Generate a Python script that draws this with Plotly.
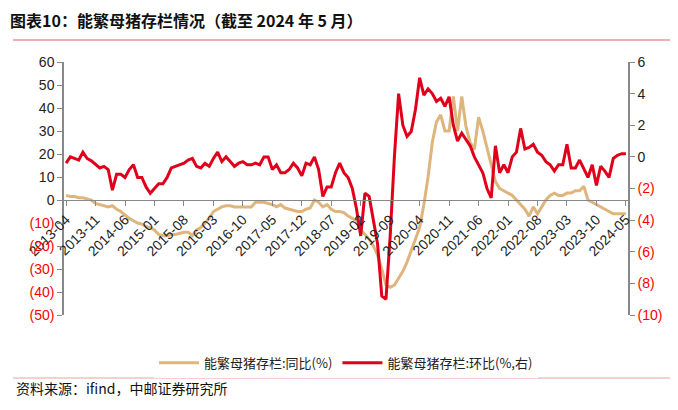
import pandas as pd
import plotly.graph_objects as go

months = pd.date_range("2013-04-01", "2024-05-01", freq="MS").strftime("%Y-%m").tolist()

# 能繁母猪存栏:同比(%)  (left axis)
yoy = [2, 1.5, 1.5, 1, 1, 0.5, 0, -1.5, -2, -2.5, -3, -2.5, -4, -5, -6.5, -8, -9, -10, -10.5, -11.5,
       -12, -13, -15, -15.5, -15.5, -15, -15, -14.5, -14, -14, -15.5, -13, -12, -10, -8, -5, -4, -3, -2.5, -2.5,
       -3, -3, -3, -3, -3, -1, -1, -1, -1.5, -2, -3, -2, -3.5, -4, -4.5, -5, -5, -4, -3.5, 0,
       -1, -3, -2, -4, -5, -5, -5.5, -7, -8, -9, -13, -15, -17, -20, -24, -30, -37, -38, -37, -34,
       -31, -27, -22, -17, -12, -2, 10, 25, 34, 37, 30, 30, 45, 30, 45, 32, 25, 22, 36, 30,
       23, 15, 8, 5, 4, 3, 2, 0, -2, -4, -7, -3, -6, -3, 0, 2, 3, 2, 2, 3,
       3, 4, 4, 6, 0, -1, -2, -3, -4, -5, -6, -6, -6, -6]

# 能繁母猪存栏:环比(%,右)  (right axis)
mom = [-0.4, 0.0, -0.1, -0.2, 0.3, -0.1, -0.25, -0.5, -0.7, -0.6, -0.8, -2.1, -1.1, -1.1, -1.3, -0.8, -0.5, -1.3, -1.3, -1.9,
       -2.3, -2.0, -1.7, -1.7, -1.3, -0.7, -0.6, -0.5, -0.4, -0.2, -0.1, -0.6, -0.7, -0.4, -0.6, -0.1, 0.3, -0.3, 0.0, -0.3,
       -0.6, -0.4, -0.3, -0.5, -0.5, -0.4, -0.5, 0.0, 0.0, -0.8, -0.5, -1.0, -1.0, -0.8, -0.4, -0.7, -1.2, -0.4, -0.5, 0.0,
       -0.8, -2.5, -1.9, -1.9, -1.0, -0.4, -1.0, -1.3, -2.0, -3.3, -5.0, -2.3, -2.5, -4.0, -5.5, -8.8, -9.0, -5.0, 0.0, 4.0,
       2.0, 1.3, 1.6, 3.0, 5.0, 3.9, 4.3, 4.0, 3.5, 3.7, 3.2, 3.8, 2.0, 1.0, 1.5, 1.1, 0.7, 0.0, -0.5, -1.0,
       -2.0, -2.6, 0.7, -1.0, -0.5, -1.0, 0.0, 0.3, 1.8, 0.5, 0.6, 0.8, 0.3, 0.1, -0.3, -0.5, -0.9, -0.5, -0.5, 0.8,
       -0.7, -0.7, -0.2, -0.8, -1.3, -0.5, -1.8, -0.6, -0.9, -1.3, -0.1, 0.1, 0.2, 0.2]

left_vals = [60, 50, 40, 30, 20, 10, 0, -10, -20, -30, -40, -50]
right_vals = [6, 4, 2, 0, -2, -4, -6, -8, -10]


def fmt(v):
    if v < 0:
        return "<span style='color:#ff0000'>(%d)</span>" % abs(v)
    return str(v)


tan = "#dfb57e"
red = "#e0001b"

fig = go.Figure()
fig.add_trace(go.Scatter(x=months, y=yoy, mode="lines", name="能繁母猪存栏:同比(%)",
                         line=dict(color=tan, width=3)))
fig.add_trace(go.Scatter(x=months, y=mom, mode="lines", name="能繁母猪存栏:环比(%,右)",
                         line=dict(color=red, width=3), yaxis="y2"))

font = "Liberation Sans, Arial, sans-serif"
fig.update_layout(
    width=678, height=410,
    margin=dict(l=56, r=58, t=54, b=103),
    paper_bgcolor="white", plot_bgcolor="white",
    font=dict(family=font, size=14, color="#222"),
    showlegend=True,
    legend=dict(orientation="h", x=0.5, xanchor="center", y=-0.13, yanchor="top",
                font=dict(family="Noto Sans CJK SC", size=13), itemwidth=40),
    xaxis=dict(type="category", tickvals=months[::7], ticktext=months[::7], tickangle=-45,
               showgrid=False, showline=True, linecolor="#888", linewidth=1,
               ticks="outside", ticklen=5, tickcolor="#888",
               anchor="free", position=50 / 110, range=[-0.5, len(months) - 0.5]),
    yaxis=dict(range=[-50, 60], tickvals=left_vals, ticktext=[fmt(v) for v in left_vals],
               showgrid=False, zeroline=False, showline=True, linecolor="#888", linewidth=1.5,
               ticks="outside", ticklen=5, tickcolor="#888"),
    yaxis2=dict(range=[-10, 6], tickvals=right_vals, ticktext=[fmt(v) for v in right_vals],
                overlaying="y", side="right", showgrid=False, zeroline=False,
                showline=True, linecolor="#888", linewidth=1.5,
                ticks="outside", ticklen=5, tickcolor="#888"),
)

fig.add_annotation(text="<b>图表10：能繁母猪存栏情况（截至 2024 年 5 月）</b>", xref="paper", yref="paper",
                   x=-56 / 564, y=1 + 42 / 253, xanchor="left", yanchor="middle", showarrow=False,
                   font=dict(family="Noto Sans CJK SC", size=16, color="#111"))
fig.add_annotation(text="资料来源：ifind，中邮证券研究所", xref="paper", yref="paper",
                   x=-50 / 564, y=-73 / 253, xanchor="left", yanchor="middle", showarrow=False,
                   font=dict(family="Noto Sans CJK SC", size=14, color="#111"))
# top thick bar, title underline and source divider
x_end = 618 / 564
fig.add_shape(type="line", xref="paper", yref="paper", x0=-51 / 564, x1=x_end,
              y0=1 + 59 / 253, y1=1 + 59 / 253, line=dict(color="#d0021b", width=3))
fig.add_shape(type="line", xref="paper", yref="paper", x0=-51 / 564, x1=x_end,
              y0=1 + 22 / 253, y1=1 + 22 / 253, line=dict(color="#e06060", width=1))
fig.add_shape(type="line", xref="paper", yref="paper", x0=-51 / 564, x1=x_end,
              y0=-63 / 253, y1=-63 / 253, line=dict(color="#e8a0a0", width=1))

fig.write_html("out.html")
